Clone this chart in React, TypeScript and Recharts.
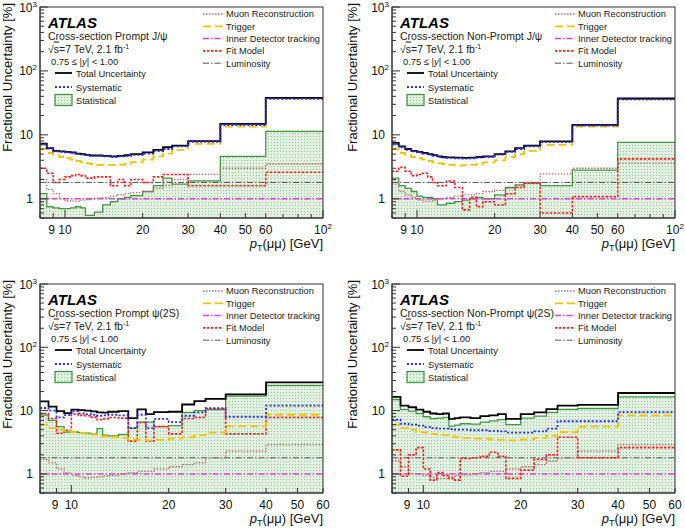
import React from 'react';
import { ComposedChart, Line, Area, XAxis, YAxis, ReferenceLine } from 'recharts';

// ---------- bin edges (pT in GeV) ----------
const ptEdgesJpsi = [8, 8.5, 9, 9.5, 10, 10.5, 11, 11.5, 12, 12.5, 13, 14, 15, 16, 17, 18, 20, 22, 24, 26, 30, 40, 60, 100];
const ptEdgesPsi2S = [8, 8.5, 9, 9.5, 10, 10.5, 11, 11.5, 12, 12.5, 13, 14, 15, 16, 17, 18, 20, 22, 24, 26, 30, 40, 60];

// ---------- Prompt J/psi ----------
const promptJpsiTotal = [7.3, 6.2, 5.6, 5.5, 5.4, 5.3, 5.1, 5.0, 4.85, 4.75, 4.75, 4.7, 4.6, 4.7, 4.8, 5.0, 5.3, 5.8, 6.4, 6.8, 8.0, 14.8, 38];
const promptJpsiSyst = [7.1, 6.1, 5.5, 5.4, 5.3, 5.2, 5.0, 4.9, 4.8, 4.7, 4.7, 4.6, 4.5, 4.6, 4.65, 4.85, 5.1, 5.55, 6.0, 6.6, 7.8, 14.2, 36.5];
const promptJpsiStat = [1.2, 0.75, 0.72, 0.7, 0.7, 0.72, 0.75, 0.72, 0.55, 0.55, 0.62, 0.8, 0.9, 1.0, 1.05, 1.12, 1.3, 1.6, 2.1, 1.7, 1.9, 4.6, 11.3];
const promptJpsiMuon = [2.0, 1.4, 1.2, 1.0, 0.93, 0.92, 0.92, 0.95, 0.97, 1.0, 1.02, 1.05, 1.1, 1.15, 1.2, 1.25, 1.3, 1.45, 1.6, 2.0, 2.4, 3.0, 3.5];
const promptJpsiTrigger = [6.0, 5.2, 4.8, 4.5, 4.3, 4.1, 3.9, 3.75, 3.6, 3.5, 3.4, 3.35, 3.35, 3.4, 3.5, 3.75, 4.1, 4.6, 5.1, 5.8, 7.2, 13.5, 37];
const promptJpsiFit = [3.0, 2.5, 1.8, 2.0, 2.2, 2.3, 2.4, 2.3, 2.1, 2.1, 2.2, 2.2, 1.6, 2.0, 1.6, 2.0, 1.8, 2.2, 2.4, 2.4, 1.6, 1.6, 2.6];

// ---------- Non-Prompt J/psi ----------
const nonPromptJpsiTotal = [7.5, 6.6, 6.0, 5.6, 5.4, 5.2, 5.0, 4.8, 4.6, 4.5, 4.45, 4.4, 4.35, 4.4, 4.5, 4.6, 5.0, 5.5, 6.2, 6.8, 7.9, 14.3, 37];
const nonPromptJpsiSyst = [7.2, 6.4, 5.8, 5.5, 5.3, 5.1, 4.9, 4.7, 4.5, 4.4, 4.35, 4.3, 4.25, 4.3, 4.4, 4.5, 4.9, 5.4, 6.0, 6.6, 7.7, 14.0, 36];
const nonPromptJpsiStat = [2.1, 1.6, 1.45, 1.3, 1.1, 1.05, 1.05, 1.0, 0.8, 0.8, 0.85, 0.9, 0.95, 1.0, 1.05, 1.0, 1.15, 1.5, 1.65, 1.75, 1.6, 2.8, 7.6];
const nonPromptJpsiMuon = [1.7, 1.3, 1.15, 1.05, 0.95, 0.92, 0.92, 0.95, 1.0, 1.0, 1.05, 1.1, 1.15, 1.15, 1.2, 1.3, 1.35, 1.45, 1.6, 1.8, 2.45, 3.0, 3.6];
const nonPromptJpsiTrigger = [6.0, 5.2, 4.8, 4.5, 4.3, 4.1, 3.9, 3.7, 3.6, 3.5, 3.4, 3.3, 3.35, 3.4, 3.5, 3.7, 4.0, 4.5, 5.0, 5.6, 7.0, 13.5, 36];
const nonPromptJpsiFit = [2.7, 3.1, 2.7, 2.3, 2.4, 2.5, 2.2, 1.8, 1.6, 1.6, 1.9, 1.5, 0.67, 1.05, 0.75, 0.9, 0.8, 1.2, 1.5, 1.75, 0.6, 1.08, 4.2];

// ---------- Prompt psi(2S) ----------
const promptPsiTotal = [14, 11.6, 9.8, 9.1, 10.4, 10.2, 10.0, 9.7, 9.4, 9.3, 9.6, 9.8, 7.6, 10.5, 8.8, 9.5, 9.6, 12.5, 14.1, 15.3, 18, 28];
const promptPsiSyst = [11, 10, 7.8, 8.5, 9.7, 9.0, 8.8, 8.6, 8.3, 8.4, 8.6, 8.4, 5.3, 8.6, 5.3, 7.4, 6.6, 8.3, 9.4, 10.9, 8.0, 12];
const promptPsiStat = [8.5, 7.0, 5.6, 4.6, 4.6, 4.5, 4.4, 4.3, 5.2, 4.1, 4.0, 4.2, 5.3, 6.6, 6.6, 5.6, 5.8, 9.4, 10.0, 10.4, 17, 25];
const promptPsiMuon = [1.7, 1.5, 1.2, 1.05, 0.95, 0.9, 0.87, 0.88, 0.9, 0.93, 0.95, 1.0, 1.05, 1.1, 1.1, 1.2, 1.3, 1.4, 1.5, 1.8, 2.3, 2.9];
const promptPsiTrigger = [6.0, 5.3, 5.0, 4.8, 4.6, 4.5, 4.3, 4.2, 4.0, 3.9, 3.8, 3.7, 3.5, 3.45, 3.4, 3.45, 3.6, 3.8, 4.1, 4.5, 5.7, 8.6];
const promptPsiFit = [9.0, 7.5, 4.4, 4.9, 8.8, 8.4, 8.3, 7.9, 7.2, 7.4, 7.8, 7.6, 3.3, 6.5, 3.3, 5.6, 4.3, 7.5, 7.8, 10.6, 4.3, 7.8];

// ---------- Non-Prompt psi(2S) ----------
const nonPromptPsiTotal = [16.5, 12.0, 11.3, 10.4, 9.6, 9.0, 8.8, 9.0, 7.4, 7.6, 7.8, 7.6, 8.2, 8.4, 8.8, 7.4, 8.8, 9.4, 10.6, 12.0, 12.3, 19];
const nonPromptPsiSyst = [7.2, 6.2, 6.0, 5.8, 5.5, 5.3, 5.2, 5.2, 5.1, 5.0, 5.0, 4.9, 4.9, 4.8, 4.7, 4.5, 4.5, 4.7, 5.2, 6.8, 6.8, 9.5];
const nonPromptPsiStat = [15, 10.5, 9.8, 9.0, 8.0, 7.5, 7.6, 7.8, 5.7, 5.9, 6.2, 6.1, 6.6, 6.9, 7.2, 6.0, 7.6, 8.2, 9.4, 10.5, 10.8, 16.5];
const nonPromptPsiMuon = [1.6, 1.3, 1.0, 1.0, 0.95, 0.88, 0.85, 0.85, 0.9, 0.95, 0.97, 1.0, 1.05, 1.1, 1.1, 1.2, 1.3, 1.4, 1.6, 1.8, 2.3, 2.9];
const nonPromptPsiTrigger = [6.0, 5.3, 5.0, 4.6, 4.5, 4.3, 4.2, 4.1, 3.9, 3.8, 3.7, 3.6, 3.6, 3.5, 3.45, 3.4, 3.5, 3.7, 4.0, 4.6, 5.6, 8.4];
const nonPromptPsiFit = [2.4, 0.92, 2.0, 2.6, 1.2, 0.8, 1.05, 0.95, 0.85, 0.8, 1.75, 1.8, 1.9, 2.2, 1.9, 0.85, 1.15, 1.7, 2.0, 3.8, 1.8, 2.6];

// constant components
const luminosityUnc = 1.8;
const idTrackingUnc = 1.0;

// ---------- ticks ----------
const yMajorTicks = [1, 10, 100, 1000];
const yMinorTicks = [0.5, 0.6, 0.7, 0.8, 0.9, 2, 3, 4, 5, 6, 7, 8, 9, 20, 30, 40, 50, 60, 70, 80, 90, 200, 300, 400, 500, 600, 700, 800, 900];
const xLabelTicksJpsi = [9, 10, 20, 30, 40, 50, 60, 100];
const xMinorTicksJpsi = [8, 70, 80, 90];
const xLabelTicksPsi = [9, 10, 20, 30, 40, 50, 60];
const xMinorTicksPsi = [8];

const FONT = "'Liberation Sans', Arial, Helvetica, sans-serif";

const C = {
  total: '#000000',
  syst: '#2a2aff',
  statStroke: '#3f9a3f',
  muon: '#b5706a',
  trigger: '#f3c300',
  id: '#e03ce0',
  fit: '#ff2020',
  lumi: '#555555',
};

const legendRight = [
  { label: 'Muon Reconstruction', color: C.muon, dash: '1.5 1.5', w: 1.3 },
  { label: 'Trigger', color: C.trigger, dash: '8 4', w: 1.8 },
  { label: 'Inner Detector tracking', color: C.id, dash: '6 2 1.5 2', w: 1.5 },
  { label: 'Fit Model', color: C.fit, dash: '2.5 1.5', w: 1.6 },
  { label: 'Luminosity', color: C.lumi, dash: '6 2 1.5 2', w: 1 },
];

function supLabel(v: number) {
  if (v === 100) return { base: '10', sup: '2' };
  if (v === 1000) return { base: '10', sup: '3' };
  return { base: String(v), sup: '' };
}

function makeYTick() {
  return (props: any) => {
    const { x, y, payload } = props;
    const v = payload.value;
    const major = yMajorTicks.includes(v);
    const lab = supLabel(v);
    return (
      <g>
        <line x1={x} x2={x + (major ? 8 : 4)} y1={y} y2={y} stroke="#333" strokeWidth={1} />
        {major && (
          <text x={lab.sup ? x - 3 : x - 7} y={y + 4.5} textAnchor="end" fontSize={12} fontFamily={FONT} fill="#111">
            {lab.base}
            {lab.sup && (
              <tspan dy={-5} fontSize={8}>{lab.sup}</tspan>
            )}
          </text>
        )}
      </g>
    );
  };
}

function makeXTick(labels: number[]) {
  return (props: any) => {
    const { x, y, payload } = props;
    const v = payload.value;
    const labeled = labels.includes(v);
    const len = v === 10 || v === 100 ? 8 : labeled ? 5 : 4;
    const lab = supLabel(v);
    return (
      <g>
        <line x1={x} x2={x} y1={y} y2={y - len} stroke="#333" strokeWidth={1} />
        {labeled && (
          <text x={v === 9 ? x - 1.5 : x} y={y + 15.5} textAnchor="middle" fontSize={12} fontFamily={FONT} fill="#111">
            {lab.base}
            {lab.sup && (
              <tspan dy={-5} fontSize={8}>{lab.sup}</tspan>
            )}
          </text>
        )}
      </g>
    );
  };
}

type PanelProps = {
  id: string;
  left: number;
  top: number;
  plotH: number;
  edges: number[];
  xMax: number;
  total: number[];
  syst: number[];
  stat: number[];
  muon: number[];
  trigger: number[];
  fit: number[];
  title: string;
  particle: React.ReactNode;
  xLabels: number[];
  xMinors: number[];
  yTitleX: number;
};

function Panel(p: PanelProps) {
  const W = 345;
  const H = 265;
  const PL = 40;
  const PT = 7;
  const PR = 323;
  const PB = PT + p.plotH;
  const rows = p.edges.map((e, i) => {
    const k = Math.min(i, p.total.length - 1);
    return {
      pt: e,
      total: p.total[k],
      syst: p.syst[k],
      stat: p.stat[k],
      muon: p.muon[k],
      trigger: p.trigger[k],
      fit: p.fit[k],
    };
  });
  const patId = `dots-${p.id}`;
  const patId2 = `ldots-${p.id}`;
  const xTicks = [...p.xMinors, ...p.xLabels].sort((a, b) => a - b);
  const yTicks = [...yMinorTicks, ...yMajorTicks].sort((a, b) => a - b);

  const pattern = (id: string) => (
    <pattern id={id} width={3} height={3} patternUnits="userSpaceOnUse">
      <rect width={3} height={3} fill="#e2f0e2" />
      <rect x={1} y={1} width={1} height={1} fill="#94c794" />
    </pattern>
  );

  return (
    <div style={{ position: 'absolute', left: p.left, top: p.top, width: W, height: H }}>
      <ComposedChart
        width={W}
        height={H}
        data={rows}
        margin={{ top: PT, right: W - PR, bottom: H - PB - 30, left: 0 }}
      >
        <defs>{pattern(patId)}</defs>
        <XAxis
          dataKey="pt"
          type="number"
          scale="log"
          domain={[8, p.xMax]}
          allowDataOverflow
          ticks={xTicks}
          interval={0}
          tickSize={0}
          tickMargin={0}
          tickLine={false}
          tick={makeXTick(p.xLabels)}
          height={30}
          stroke="#333"
        />
        <YAxis
          type="number"
          scale="log"
          domain={[0.5, 1000]}
          allowDataOverflow
          ticks={yTicks}
          interval={0}
          width={PL}
          tickSize={0}
          tickMargin={0}
          tickLine={false}
          tick={makeYTick()}
          stroke="#333"
        />
        <Area
          dataKey="stat"
          type="stepAfter"
          baseValue={0.5}
          stroke={C.statStroke}
          strokeWidth={1.3}
          fill={`url(#${patId})`}
          fillOpacity={1}
          dot={false}
          activeDot={false}
          isAnimationActive={false}
        />
        <ReferenceLine y={luminosityUnc} stroke={C.lumi} strokeWidth={1} strokeDasharray="6 2 1.5 2" />
        <ReferenceLine y={idTrackingUnc} stroke={C.id} strokeWidth={1.5} strokeDasharray="6 2 1.5 2" />
        <Line dataKey="muon" type="stepAfter" stroke={C.muon} strokeWidth={1.3} strokeDasharray="1.5 1.5" dot={false} activeDot={false} isAnimationActive={false} />
        <Line dataKey="fit" type="stepAfter" stroke={C.fit} strokeWidth={1.6} strokeDasharray="2.5 1.5" dot={false} activeDot={false} isAnimationActive={false} />
        <Line dataKey="trigger" type="stepAfter" stroke={C.trigger} strokeWidth={1.8} strokeDasharray="8 4" dot={false} activeDot={false} isAnimationActive={false} />
        <Line dataKey="total" type="stepAfter" stroke={C.total} strokeWidth={1.8} dot={false} activeDot={false} isAnimationActive={false} />
        <Line dataKey="syst" type="stepAfter" stroke={C.syst} strokeWidth={1.8} strokeDasharray="2 2" dot={false} activeDot={false} isAnimationActive={false} />
      </ComposedChart>
      <svg
        width={W}
        height={H}
        style={{ position: 'absolute', left: 0, top: 0, overflow: 'visible', pointerEvents: 'none' }}
        fontFamily={FONT}
      >
        <defs>{pattern(patId2)}</defs>
        {/* frame */}
        <rect x={PL} y={PT} width={PR - PL} height={p.plotH} fill="none" stroke="#333" strokeWidth={1} />
        {/* y title */}
        <text
          transform={`translate(${p.yTitleX}, ${PT - 4}) rotate(-90)`}
          textAnchor="end"
          dominantBaseline="central"
          fontSize={13}
          fill="#111"
        >
          Fractional Uncertainty [%]
        </text>
        {/* x title */}
        <text x={PR} y={PB + 29.5} textAnchor="end" fontSize={13} fill="#111">
          <tspan fontStyle="italic">p</tspan>
          <tspan fontSize={9} dy={3}>T</tspan>
          <tspan dy={-3}>(μμ) [GeV]</tspan>
        </text>
        {/* header */}
        <text x={PL + 8} y={PT + 21} fontSize={15} fontWeight="bold" fontStyle="italic" fill="#000">
          ATLAS
        </text>
        <text x={PL + 8} y={PT + 33} fontSize={10.5} fill="#222">
          {p.title}
          {p.particle}
        </text>
        <text x={PL + 8} y={PT + 45.5} fontSize={10.5} fill="#222">
          √<tspan textDecoration="overline">s</tspan>=7 TeV, 2.1 fb<tspan dy={-4} fontSize={7}>-1</tspan>
        </text>
        <text x={PL + 11} y={PT + 57.5} fontSize={9.4} fill="#222">
          0.75 ≤ |<tspan fontStyle="italic">y</tspan>| &lt; 1.00
        </text>
        {/* left legend */}
        <line x1={PL + 15} x2={PL + 32} y1={PT + 66} y2={PT + 66} stroke={C.total} strokeWidth={1.8} />
        <text x={PL + 36} y={PT + 69.5} fontSize={9.4} fill="#222">Total Uncertainty</text>
        <line x1={PL + 15} x2={PL + 32} y1={PT + 80} y2={PT + 80} stroke={C.syst} strokeWidth={1.8} strokeDasharray="2 2" />
        <text x={PL + 36} y={PT + 83.5} fontSize={9.4} fill="#222">Systematic</text>
        <rect x={PL + 15} y={PT + 87.5} width={17} height={11} fill={`url(#${patId2})`} stroke={C.statStroke} strokeWidth={1.3} />
        <text x={PL + 36} y={PT + 96.5} fontSize={9.4} fill="#222">Statistical</text>
        {/* right legend */}
        {legendRight.map((e, i) => {
          const yy = PT + 7 + i * 12.3;
          return (
            <g key={e.label}>
              <line x1={PL + 163} x2={PL + 183} y1={yy} y2={yy} stroke={e.color} strokeWidth={e.w} strokeDasharray={e.dash} />
              <text x={PL + 186} y={yy + 3.3} fontSize={9.3} fill="#222">{e.label}</text>
            </g>
          );
        })}
      </svg>
    </div>
  );
}

export default function App() {
  return (
    <div style={{ position: 'absolute', left: 0, top: 0, width: 685, height: 530, background: '#ffffff', overflow: 'hidden' }}>
      <Panel
        id="tl" left={0} top={0} plotH={211} edges={ptEdgesJpsi} xMax={100}
        total={promptJpsiTotal} syst={promptJpsiSyst} stat={promptJpsiStat}
        muon={promptJpsiMuon} trigger={promptJpsiTrigger} fit={promptJpsiFit}
        title="Cross-section Prompt " particle={<tspan>J/ψ</tspan>}
        xLabels={xLabelTicksJpsi} xMinors={xMinorTicksJpsi} yTitleX={7}
      />
      <Panel
        id="tr" left={352} top={0} plotH={211} edges={ptEdgesJpsi} xMax={100}
        total={nonPromptJpsiTotal} syst={nonPromptJpsiSyst} stat={nonPromptJpsiStat}
        muon={nonPromptJpsiMuon} trigger={nonPromptJpsiTrigger} fit={nonPromptJpsiFit}
        title="Cross-section Non-Prompt " particle={<tspan>J/ψ</tspan>}
        xLabels={xLabelTicksJpsi} xMinors={xMinorTicksJpsi} yTitleX={0}
      />
      <Panel
        id="bl" left={0} top={277} plotH={209} edges={ptEdgesPsi2S} xMax={60}
        total={promptPsiTotal} syst={promptPsiSyst} stat={promptPsiStat}
        muon={promptPsiMuon} trigger={promptPsiTrigger} fit={promptPsiFit}
        title="Cross-section Prompt " particle={<tspan>ψ(2S)</tspan>}
        xLabels={xLabelTicksPsi} xMinors={xMinorTicksPsi} yTitleX={7}
      />
      <Panel
        id="br" left={352} top={277} plotH={209} edges={ptEdgesPsi2S} xMax={60}
        total={nonPromptPsiTotal} syst={nonPromptPsiSyst} stat={nonPromptPsiStat}
        muon={nonPromptPsiMuon} trigger={nonPromptPsiTrigger} fit={nonPromptPsiFit}
        title="Cross-section Non-Prompt " particle={<tspan>ψ(2S)</tspan>}
        xLabels={xLabelTicksPsi} xMinors={xMinorTicksPsi} yTitleX={0}
      />
    </div>
  );
}
